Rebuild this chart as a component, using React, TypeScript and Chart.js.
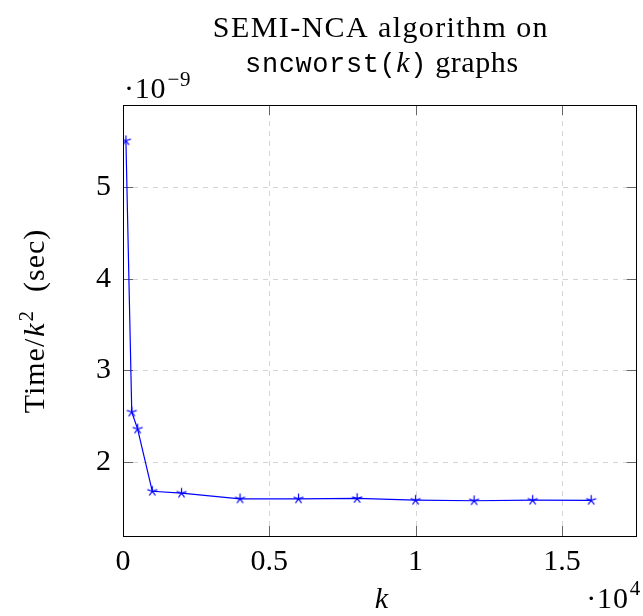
import React, { useEffect, useRef } from "react";
import { Chart, registerables } from "chart.js";

Chart.register(...registerables);

const kValues = [100, 300, 500, 1000, 2000, 4000, 6000, 8000, 10000, 12000, 14000, 16000];
const timeValues = [5.507, 2.544, 2.358, 1.679, 1.658, 1.596, 1.596, 1.6, 1.581, 1.575, 1.581, 1.58];
const xTicks = [0, 5000, 10000, 15000];
const xTickLabels = ["0", "0.5", "1", "1.5"];
const yTicks = [2, 3, 4, 5];
const yTickLabels = ["2", "3", "4", "5"];
const titleLine1 = "SEMI-NCA algorithm on";
const titleMono = "sncworst(";
const titleK = "k";
const titleMono2 = ")";
const titleRest = " graphs";
const xLabel = "k";
const yLabelParts = ["Time/", "k", "2", "  (sec)"];

const SERIF = "'Liberation Serif', 'Times New Roman', serif";
const MONO = "'Liberation Mono', 'DejaVu Sans Mono', monospace";

function makeStar(): HTMLCanvasElement {
  const c = document.createElement("canvas");
  const s = 13;
  c.width = s;
  c.height = s;
  const g = c.getContext("2d")!;
  g.strokeStyle = "#0000ff";
  g.lineWidth = 1.2;
  const cx = s / 2, cy = s / 2, r = 5.2;
  g.beginPath();
  for (let i = 0; i < 5; i++) {
    const a = -Math.PI / 2 + (i * 2 * Math.PI) / 5;
    g.moveTo(cx, cy);
    g.lineTo(cx + r * Math.cos(a), cy + r * Math.sin(a));
  }
  g.stroke();
  return c;
}

export default function App() {
  const ref = useRef<HTMLCanvasElement | null>(null);
  useEffect(() => {
    if (!ref.current) return;
    const star = makeStar();
    const decor = {
      id: "decor",
      beforeDatasetsDraw(chart: any) {
        const ctx = chart.ctx;
        const { left, right, top, bottom } = chart.chartArea;
        const xs = chart.scales.x, ys = chart.scales.y;
        ctx.save();
        ctx.strokeStyle = "#d4d4d4";
        ctx.lineWidth = 1;
        ctx.setLineDash([5, 5]);
        for (const v of xTicks) {
          if (v === 0) continue;
          const px = Math.round(xs.getPixelForValue(v)) + 0.5;
          ctx.beginPath();
          ctx.moveTo(px, bottom);
          ctx.lineTo(px, top);
          ctx.stroke();
        }
        for (const v of yTicks) {
          const py = Math.round(ys.getPixelForValue(v)) + 0.5;
          ctx.beginPath();
          ctx.moveTo(left, py);
          ctx.lineTo(right, py);
          ctx.stroke();
        }
        ctx.setLineDash([]);
        ctx.strokeStyle = "#666";
        const tl = 10;
        for (const v of xTicks) {
          if (v === 0) continue;
          const px = Math.round(xs.getPixelForValue(v)) + 0.5;
          ctx.beginPath();
          ctx.moveTo(px, bottom);
          ctx.lineTo(px, bottom - tl);
          ctx.moveTo(px, top);
          ctx.lineTo(px, top + tl);
          ctx.stroke();
        }
        for (const v of yTicks) {
          const py = Math.round(ys.getPixelForValue(v)) + 0.5;
          ctx.beginPath();
          ctx.moveTo(left, py);
          ctx.lineTo(left + tl, py);
          ctx.moveTo(right, py);
          ctx.lineTo(right - tl, py);
          ctx.stroke();
        }
        ctx.restore();
      },
      afterDraw(chart: any) {
        const ctx = chart.ctx;
        const { left, right, top, bottom } = chart.chartArea;
        ctx.save();
        ctx.strokeStyle = "#000";
        ctx.lineWidth = 1;
        ctx.strokeRect(Math.round(left) + 0.5, Math.round(top) + 0.5, Math.round(right - left) - 1, Math.round(bottom - top));
        ctx.fillStyle = "#000";
        ctx.textBaseline = "alphabetic";
        (ctx as any).letterSpacing = "1.4px";
        const cx = (left + right) / 2;
        // title line 1
        ctx.font = `30px ${SERIF}`;
        ctx.textAlign = "center";
        ctx.fillText(titleLine1, cx + 1, 37);
        // title line 2
        (ctx as any).letterSpacing = "0.6px";
        ctx.textAlign = "left";
        const fMono = `27px ${MONO}`;
        const fK = `italic 30px ${SERIF}`;
        const fSerif = `30px ${SERIF}`;
        const parts: [string, string][] = [
          [titleMono, fMono],
          [titleK, fK],
          [titleMono2, fMono],
          [titleRest, fSerif],
        ];
        let w = 0;
        for (const [t, f] of parts) {
          ctx.font = f;
          w += ctx.measureText(t).width;
        }
        let x = cx - w / 2 + 2;
        for (const [t, f] of parts) {
          ctx.font = f;
          ctx.fillText(t, x, 72);
          x += ctx.measureText(t).width;
        }
        (ctx as any).letterSpacing = "0.8px";
        // exponent top-left
        ctx.font = `30px ${SERIF}`;
        ctx.fillText("·10", left + 1, 98);
        const ew = ctx.measureText("·10").width;
        ctx.font = `21px ${SERIF}`;
        ctx.fillText("−9", left + 1 + ew + 1, 86);
        // exponent bottom right
        ctx.font = `30px ${SERIF}`;
        const w4 = ctx.measureText("·10").width;
        ctx.font = `21px ${SERIF}`;
        const wsup = ctx.measureText("4").width;
        const ex = 641 - w4 - wsup - 1;
        ctx.font = `30px ${SERIF}`;
        ctx.fillText("·10", ex, 608);
        ctx.font = `21px ${SERIF}`;
        ctx.fillText("4", ex + w4 + 1, 595);
        // x label
        ctx.font = `italic 30px ${SERIF}`;
        ctx.textAlign = "center";
        ctx.fillText(xLabel, cx + 2, 608);
        // y label
        ctx.translate(44, (top + bottom) / 2);
        ctx.rotate(-Math.PI / 2);
        (ctx as any).letterSpacing = "1px";
        const yparts: [string, string, number][] = [
          [yLabelParts[0], `30px ${SERIF}`, 0],
          [yLabelParts[1], `italic 30px ${SERIF}`, 0],
          [yLabelParts[2], `21px ${SERIF}`, -11],
          [yLabelParts[3], `30px ${SERIF}`, 0],
        ];
        ctx.textAlign = "left";
        let yw = 0;
        for (const [t, f] of yparts) {
          ctx.font = f;
          yw += ctx.measureText(t).width + 1;
        }
        let yx = -yw / 2;
        for (const [t, f, dy] of yparts) {
          ctx.font = f;
          ctx.fillText(t, yx, dy);
          yx += ctx.measureText(t).width + 1;
        }
        ctx.restore();
      },
    };
    const chart = new Chart(ref.current, {
      type: "scatter",
      data: {
        datasets: [
          {
            data: kValues.map((k, i) => ({ x: k, y: timeValues[i] })),
            showLine: true,
            borderColor: "#0000ff",
            borderWidth: 1.2,
            pointStyle: star as any,
            pointRadius: 5,
            pointBorderColor: "#0000ff",
            pointBackgroundColor: "#0000ff",
          },
        ],
      },
      options: {
        animation: false,
        responsive: false,
        layout: { padding: { left: 0, right: 2, top: 105, bottom: 0 } },
        plugins: { legend: { display: false }, tooltip: { enabled: false } },
        scales: {
          x: {
            type: "linear",
            min: 0,
            max: 17560,
            grid: { display: false, drawTicks: false },
            border: { display: false },
            afterBuildTicks: (s: any) => {
              s.ticks = xTicks.map((v) => ({ value: v }));
            },
            afterFit: (s: any) => {
              s.height = 80;
            },
            ticks: {
              padding: 8,
              maxRotation: 0,
              autoSkip: false,
              color: "#000",
              font: { family: SERIF, size: 30 },
              callback: (v: any) => xTickLabels[xTicks.indexOf(Number(v))] ?? "",
            },
          },
          y: {
            type: "linear",
            min: 1.19,
            max: 5.897,
            grid: { display: false, drawTicks: false },
            border: { display: false },
            afterBuildTicks: (s: any) => {
              s.ticks = yTicks.map((v) => ({ value: v }));
            },
            afterFit: (s: any) => {
              s.width = 123;
            },
            ticks: {
              padding: 12,
              autoSkip: false,
              color: "#000",
              font: { family: SERIF, size: 30 },
              callback: (v: any) => yTickLabels[yTicks.indexOf(Number(v))] ?? "",
            },
          },
        },
      },
      plugins: [decor],
    });
    return () => chart.destroy();
  }, []);
  return (
    <div style={{ position: "fixed", left: 0, top: 0, width: 643, height: 616, background: "#fff" }}>
      <canvas ref={ref} width={643} height={616} style={{ width: 643, height: 616, display: "block" }} />
    </div>
  );
}
